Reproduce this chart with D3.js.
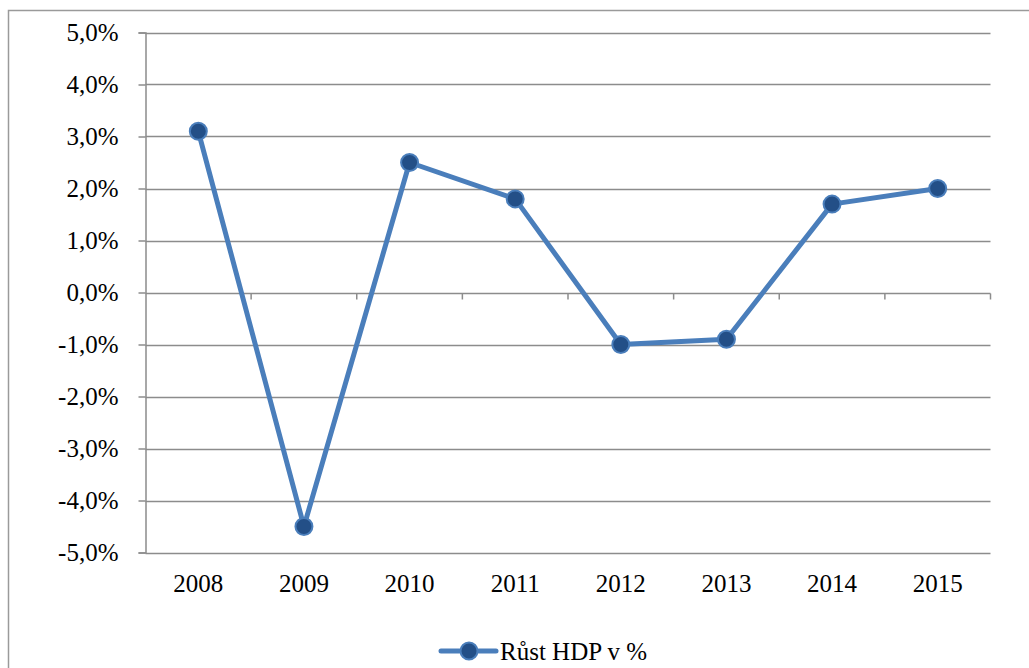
<!DOCTYPE html>
<html>
<head>
<meta charset="utf-8">
<script src="https://cdn.jsdelivr.net/npm/d3@7"></script>
<style>
  html, body { margin: 0; padding: 0; background: #fff; }
  svg { display: block; }
</style>
</head>
<body>
<svg id="chart" width="1029" height="668"></svg>
<script>
// Annual GDP growth, %
const years = ["2008", "2009", "2010", "2011", "2012", "2013", "2014", "2015"];
const growth = [3.1, -4.5, 2.5, 1.8, -1.0, -0.9, 1.7, 2.0];
const yTicks = [-5, -4, -3, -2, -1, 0, 1, 2, 3, 4, 5];
const seriesName = "Růst HDP v %";

const svg = d3.select("#chart");
const font = "'Liberation Serif', 'Times New Roman', serif";
const fontSize = 25;
const gridColor = "#8c8c8c";
const lineColor = "#4a7ebb";
const markerFill = "#234f87";

const plot = { left: 145.5, right: 990.5, top: 32.5, bottom: 552.5 };

// outer frame
svg.append("rect")
  .attr("x", 8.5).attr("y", 10.5)
  .attr("width", 1040).attr("height", 700)
  .attr("fill", "none").attr("stroke", "#9a9a9a").attr("stroke-width", 1.5);

const x = d3.scaleBand().domain(years).range([plot.left, plot.right]).padding(0);
const y = d3.scaleLinear().domain([-5, 5]).range([plot.bottom, plot.top]);

// horizontal gridlines
svg.append("g").selectAll("line").data(yTicks).join("line")
  .attr("x1", plot.left).attr("x2", plot.right)
  .attr("y1", d => Math.round(y(d)) + 0.5).attr("y2", d => Math.round(y(d)) + 0.5)
  .attr("stroke", gridColor).attr("stroke-width", 1.5);

// value axis
const yAxis = d3.axisLeft(y).tickValues(yTicks).tickSize(7).tickPadding(20)
  .tickFormat(d => d3.format(".1f")(d).replace(".", ",").replace("−", "-") + "%");
const gy = svg.append("g").attr("transform", `translate(${plot.left},0)`).call(yAxis);
gy.select(".domain").attr("stroke", gridColor).attr("stroke-width", 1.5);
gy.selectAll(".tick line").attr("stroke", gridColor).attr("stroke-width", 1.5);
gy.selectAll(".tick text").attr("font-family", font).attr("font-size", fontSize).attr("fill", "#000");

// category axis on the zero line, ticks at band boundaries
const boundaries = years.map(d => x(d)).concat([plot.right]);
const zeroY = Math.round(y(0)) + 0.5;
svg.append("g").selectAll("line").data(boundaries.slice(1)).join("line")
  .attr("x1", d => d).attr("x2", d => d)
  .attr("y1", zeroY).attr("y2", zeroY + 6)
  .attr("stroke", gridColor).attr("stroke-width", 1.5);

// category labels below the plot
svg.append("g").selectAll("text").data(years).join("text")
  .attr("x", d => x(d) + x.bandwidth() / 2)
  .attr("y", plot.bottom + 39)
  .attr("text-anchor", "middle")
  .attr("font-family", font).attr("font-size", fontSize).attr("fill", "#000")
  .text(d => d);

// series line
const pts = years.map((d, i) => [x(d) + x.bandwidth() / 2, y(growth[i])]);
svg.append("path")
  .attr("d", d3.line()(pts))
  .attr("fill", "none").attr("stroke", lineColor)
  .attr("stroke-width", 5).attr("stroke-linejoin", "round");

svg.append("g").selectAll("circle").data(pts).join("circle")
  .attr("cx", d => d[0]).attr("cy", d => d[1]).attr("r", 8.5)
  .attr("fill", markerFill).attr("stroke", lineColor).attr("stroke-width", 2);

// legend
const lg = svg.append("g").attr("transform", "translate(441,651)");
lg.append("line").attr("x1", 0).attr("x2", 55).attr("y1", 0).attr("y2", 0)
  .attr("stroke", lineColor).attr("stroke-width", 5).attr("stroke-linecap", "round");
lg.append("circle").attr("cx", 28).attr("cy", 0).attr("r", 8.5)
  .attr("fill", markerFill).attr("stroke", lineColor).attr("stroke-width", 2);
lg.append("text").attr("x", 59).attr("y", 9)
  .attr("font-family", font).attr("font-size", fontSize).attr("fill", "#000")
  .text(seriesName);
</script>
</body>
</html>
